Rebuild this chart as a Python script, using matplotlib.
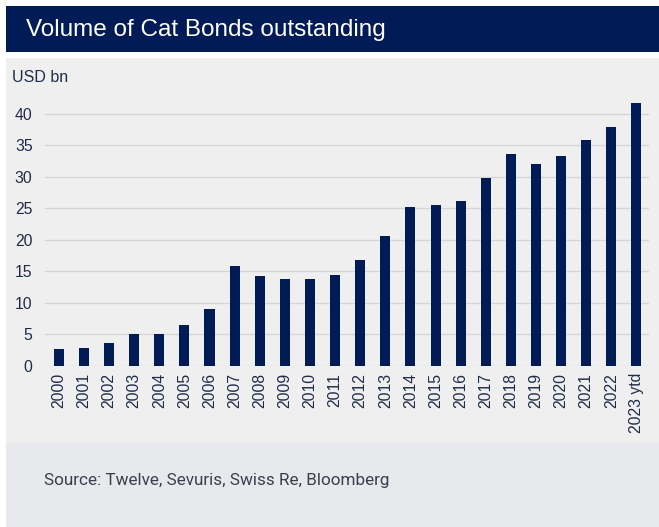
import matplotlib.pyplot as plt
from matplotlib.patches import Rectangle

years = ['2000', '2001', '2002', '2003', '2004', '2005', '2006', '2007',
         '2008', '2009', '2010', '2011', '2012', '2013', '2014', '2015',
         '2016', '2017', '2018', '2019', '2020', '2021', '2022', '2023 ytd']
volume = [2.7, 2.8, 3.7, 5.1, 5.1, 6.5, 9.0, 15.8,
          14.3, 13.8, 13.8, 14.4, 16.8, 20.7, 25.2, 25.6,
          26.2, 29.8, 33.7, 32.0, 33.3, 35.9, 37.9, 41.7]
yticks = [0, 5, 10, 15, 20, 25, 30, 35, 40]

navy = '#001b56'
text_col = '#1e2b4a'

W, H = 659, 527
fig = plt.figure(figsize=(W / 100, H / 100), dpi=100)
fig.patch.set_facecolor('white')

# background panels (pixel coords -> figure fraction)
def box(x0, y0, x1, y1, color):
    fig.patches.append(Rectangle((x0 / W, 1 - y1 / H), (x1 - x0) / W, (y1 - y0) / H,
                                 transform=fig.transFigure, color=color, zorder=-10, lw=0))

box(6, 6, 659, 52, navy)
box(6, 58, 659, 443, '#efefef')
box(6, 443, 659, 527, '#e8e9ed')

fig.text(26 / W, 1 - 30 / H, 'Volume of Cat Bonds outstanding', color='white',
         fontsize=17.5, family='Liberation Sans', va='center', ha='left')
fig.text(12 / W, 1 - 77 / H, 'USD bn', color=text_col, fontsize=11.5,
         family='Liberation Sans', va='center', ha='left')
fig.text(44 / W, 1 - 481 / H, 'Source: Twelve, Sevuris, Swiss Re, Bloomberg',
         color='#3a3f4c', fontsize=12.3, family='Roboto', va='center', ha='left')

ax_l, ax_r, ax_t, ax_b = 45, 649, 100, 366
ax = fig.add_axes([ax_l / W, 1 - ax_b / H, (ax_r - ax_l) / W, (ax_b - ax_t) / H])
ax.set_facecolor('none')

x = range(len(years))
ax.bar(x, volume, width=0.4, color=navy, zorder=3)

ax.set_ylim(0, 42.2)
ax.set_xlim(-0.55, 23.5)
ax.set_yticks(yticks)
ax.set_xticks(list(x))
ax.set_xticklabels(years, rotation=90)
ax.grid(axis='y', color='#d6d6d6', lw=1, zorder=0)
for s in ax.spines.values():
    s.set_visible(False)
ax.tick_params(length=0, labelsize=11.3, labelcolor=text_col)
ax.tick_params(axis='y', pad=9)
ax.tick_params(axis='x', pad=5)
for lab in ax.get_xticklabels() + ax.get_yticklabels():
    lab.set_family('Liberation Sans')

fig.savefig('out.png', dpi=100)
